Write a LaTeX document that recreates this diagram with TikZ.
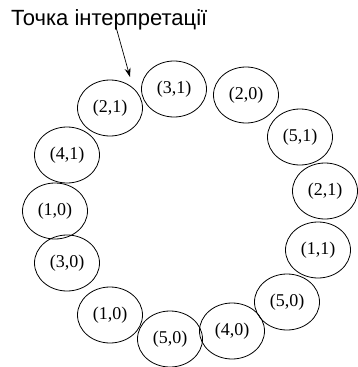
\documentclass[tikz,border=0pt]{standalone}
\usepackage{fontspec}
\setmainfont{Liberation Serif}
\newfontfamily\labelfont{Liberation Sans}
\usetikzlibrary{shapes.geometric,arrows.meta}

\begin{document}
\begin{tikzpicture}[x=1pt,y=-1pt]
  \tikzstyle{pair}=[ellipse,draw,line width=0.8pt,minimum width=65pt,minimum height=56pt,inner sep=0pt,font=\fontsize{18}{20}\selectfont]
  \useasboundingbox (0,0) rectangle (357,367);
  \node[anchor=base west,inner sep=0pt,font=\labelfont\fontsize{22}{25}\selectfont] (title) at (11,25) {Точка інтерпретації};
  \node[pair] (p1) at (174,89) {(3,1)};
  \node[pair] (p2) at (246,95) {(2,0)};
  \node[pair] (p3) at (300,137) {(5,1)};
  \node[pair] (p4) at (325,191) {(2,1)};
  \node[pair] (p5) at (318,250) {(1,1)};
  \node[pair] (p6) at (287,302) {(5,0)};
  \node[pair] (p7) at (232,331) {(4,0)};
  \node[pair] (p8) at (170,339) {(5,0)};
  \node[pair] (p9) at (110,315) {(1,0)};
  \node[pair] (p10) at (67,263) {(3,0)};
  \node[pair] (p11) at (55,211) {(1,0)};
  \node[pair] (p12) at (67,155) {(4,1)};
  \node[pair] (p13) at (110,108) {(2,1)};
  \coordinate (from) at (116,27);
  \coordinate (tip) at (130,77);
  \draw[-{Stealth[length=9pt,width=6pt]},line width=0.7pt] (from) -- (tip);
\end{tikzpicture}
\end{document}
